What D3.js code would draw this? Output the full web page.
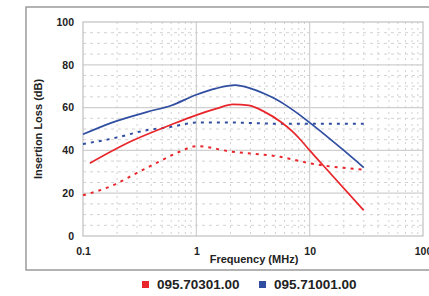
<!DOCTYPE html>
<html lang="en">
<head>
<meta charset="utf-8">
<script src="https://d3js.org/d3.v7.min.js"></script>
<style>
  body { margin: 0; background: #fff; }
  text { font-family: "Liberation Sans", Arial, sans-serif; font-weight: bold; fill: #222; }
</style>
</head>
<body>
<script>
// ---- data ----
var xTicks = [0.1, 1, 10, 100];
var xTickLabels = ["0.1", "1", "10", "100"];
var yTicks = [0, 20, 40, 60, 80, 100];
var seriesNames = ["095.70301.00", "095.71001.00"];
var seriesColors = ["#e8262b", "#2f4ea1"];

// 095.70301.00 (red)
var redSolid = [[0.115, 34], [0.26, 44], [0.6, 52], [1, 56.5], [1.5, 59.5], [2.1, 61.5], [2.9, 61],
                [4, 58], [5.5, 53.5], [7, 49], [8.3, 45], [10, 40], [13, 33.3], [30, 12]];
var redDotted = [[0.1, 19], [0.18, 23.5], [0.3, 29.5], [0.5, 35.5], [0.72, 39.5], [1, 42],
                 [2, 39.5], [5.5, 37], [10, 34], [13, 33], [30, 31]];
// 095.71001.00 (blue)
var blueSolid = [[0.1, 47.5], [0.18, 53], [0.37, 58], [0.6, 61], [1, 66], [1.5, 69], [2.2, 70.5],
                 [3, 69], [4, 66.5], [5, 64], [6, 61.5], [7.5, 58], [10, 53], [20, 40], [30, 32]];
var blueDotted = [[0.1, 43], [0.18, 45.5], [0.37, 49.5], [0.6, 51], [1, 53], [2, 53],
                  [5, 52.5], [10, 52.5], [30, 52.5]];

var W = 429, H = 296;
var svg = d3.select("body").append("svg").attr("width", W).attr("height", H);

// outer frame (runs off the right edge)
svg.append("rect").attr("x", 26).attr("y", 7).attr("width", 420).attr("height", 263)
   .attr("fill", "none").attr("stroke", "#9a9a9a").attr("stroke-width", 1.5);

// plot area ("top" is taken by window.top, so p- names)
var pLeft = 83, pRight = 423, pTop = 22, pBottom = 236;
var x = d3.scaleLog().domain([0.1, 100]).range([pLeft, pRight]);
var y = d3.scaleLinear().domain([0, 100]).range([pBottom, pTop]);

var grid = svg.append("g");
// minor x lines
var minorX = [];
[0.1, 1, 10].forEach(function (d) { for (var k = 2; k <= 9; k++) minorX.push(d * k); });
grid.selectAll(".mx").data(minorX).enter().append("line")
    .attr("x1", function (d) { return x(d); }).attr("x2", function (d) { return x(d); })
    .attr("y1", pTop).attr("y2", pBottom)
    .attr("stroke", "#d2d2d2").attr("stroke-width", 1).attr("stroke-dasharray", "2,4");
// minor y lines
var minorY = d3.range(5, 100, 5).filter(function (d) { return d % 20 != 0; });
grid.selectAll(".my").data(minorY).enter().append("line")
    .attr("x1", pLeft).attr("x2", pRight)
    .attr("y1", function (d) { return y(d); }).attr("y2", function (d) { return y(d); })
    .attr("stroke", "#d2d2d2").attr("stroke-width", 1).attr("stroke-dasharray", "3,4");
// major lines
grid.selectAll(".Mx").data([1, 10]).enter().append("line")
    .attr("x1", function (d) { return x(d); }).attr("x2", function (d) { return x(d); })
    .attr("y1", pTop).attr("y2", pBottom).attr("stroke", "#d0d0d0").attr("stroke-width", 1.2);
grid.selectAll(".My").data([20, 40, 60, 80]).enter().append("line")
    .attr("x1", pLeft).attr("x2", pRight)
    .attr("y1", function (d) { return y(d); }).attr("y2", function (d) { return y(d); })
    .attr("stroke", "#d0d0d0").attr("stroke-width", 1.2);
svg.append("rect").attr("x", pLeft).attr("y", pTop).attr("width", pRight - pLeft).attr("height", pBottom - pTop)
   .attr("fill", "none").attr("stroke", "#c0c0c0").attr("stroke-width", 1.2);

// axes
var yAxis = d3.axisLeft(y).tickValues(yTicks).tickSize(0).tickPadding(9);
var gy = svg.append("g").attr("transform", "translate(" + pLeft + ",0)").call(yAxis);
gy.select(".domain").remove();
gy.selectAll("text").style("font-size", "10.5px");

var xAxis = d3.axisBottom(x).tickValues(xTicks).tickSize(0).tickPadding(12)
    .tickFormat(function (d, i) { return xTickLabels[i]; });
var gx = svg.append("g").attr("transform", "translate(0," + pBottom + ")").call(xAxis);
gx.select(".domain").remove();
gx.selectAll("text").style("font-size", "10.5px");

svg.append("text").attr("x", 254).attr("y", 263).attr("text-anchor", "middle")
   .style("font-size", "11px").text("Frequency (MHz)");
svg.append("text").attr("transform", "translate(42," + ((pTop + pBottom) / 2) + ") rotate(-90)")
   .attr("text-anchor", "middle").style("font-size", "11px").text("Insertion Loss (dB)");

// series
var line = d3.line().x(function (d) { return x(d[0]); }).y(function (d) { return y(d[1]); })
    .curve(d3.curveMonotoneX);
var series = [
  { data: redDotted, color: seriesColors[0], dash: "3,5" },
  { data: blueDotted, color: seriesColors[1], dash: "3,5" },
  { data: redSolid, color: seriesColors[0], dash: null },
  { data: blueSolid, color: seriesColors[1], dash: null }
];
svg.selectAll(".series").data(series).enter().append("path")
   .attr("d", function (s) { return line(s.data); })
   .attr("fill", "none")
   .attr("stroke", function (s) { return s.color; })
   .attr("stroke-width", function (s) { return s.dash ? 2 : 1.7; })
   .attr("stroke-dasharray", function (s) { return s.dash; });

// legend
var legX = [142, 259];
var leg = svg.selectAll(".leg").data(seriesNames).enter().append("g")
   .attr("transform", function (d, i) { return "translate(" + legX[i] + ",281)"; });
leg.append("rect").attr("width", 7).attr("height", 7)
   .attr("fill", function (d, i) { return seriesColors[i]; });
leg.append("text").attr("x", 15).attr("y", 8).style("font-size", "13.5px").text(function (d) { return d; });
</script>
</body>
</html>
